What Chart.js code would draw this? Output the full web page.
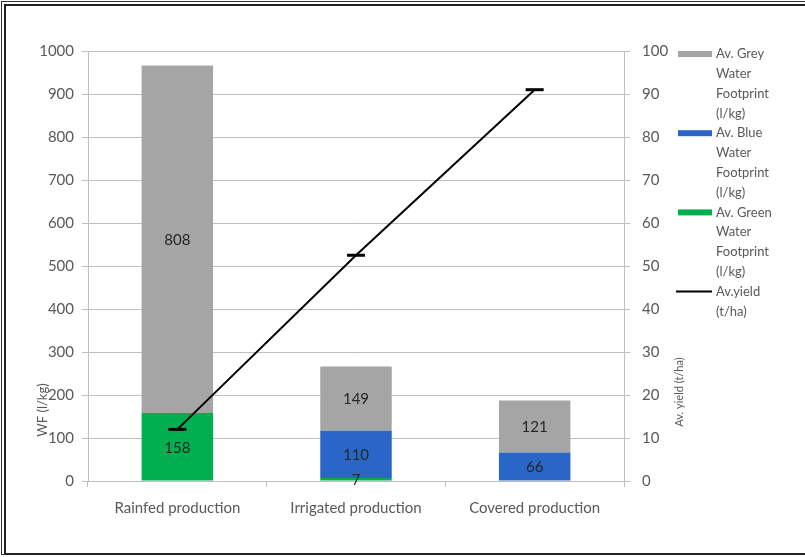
<!DOCTYPE html>
<html>
<head>
<meta charset="utf-8">
<script src="https://cdn.jsdelivr.net/npm/chart.js@4.4.0/dist/chart.umd.min.js"></script>
<style>
  html, body { margin: 0; padding: 0; background: #fff; overflow: hidden; }
  #wrap { width: 805px; height: 557px; position: relative; }
</style>
</head>
<body>
<div id="wrap"><canvas id="wf_chart" width="805" height="557"></canvas></div>
<script>
const categories = ["Rainfed production", "Irrigated production", "Covered production"];
const greenWF = [158, 7, 0];
const blueWF = [0, 110, 66];
const greyWF = [808, 149, 121];
const avYield = [12, 52.5, 91];

const legendItems = [
    { lines: ["Av. Grey", "Water", "Footprint", "(l/kg)"], color: "#a5a5a5", type: "box" },
    { lines: ["Av. Blue", "Water", "Footprint", "(l/kg)"], color: "#2a66c8", type: "box" },
    { lines: ["Av. Green", "Water", "Footprint", "(l/kg)"], color: "#00b050", type: "box" },
    { lines: ["Av.yield", "(t/ha)"], color: "#000000", type: "line" }
];

const font = "Lato";
const textGrey = "#595959";
const gridGrey = "#bfbfbf";

// white background + frame around the picture
const frame = {
    id: 'frame',
    beforeDraw: (chart) => {
        const {ctx} = chart;
        ctx.save();
        ctx.fillStyle = '#ffffff';
        ctx.fillRect(0, 0, chart.width, chart.height);
        ctx.restore();
    },
    afterDraw: (chart) => {
        const {ctx} = chart;
        ctx.save();
        ctx.strokeStyle = '#333';
        ctx.lineWidth = 1;
        ctx.strokeRect(1.5, 1.5, 820, 553);
        ctx.lineWidth = 2;
        ctx.strokeStyle = '#222';
        ctx.strokeRect(5, 5, 820, 549);
        ctx.restore();
    }
};

// value labels in the middle of each bar segment
const barLabels = {
    id: 'barLabels',
    afterDatasetsDraw: (chart) => {
        const {ctx} = chart;
        ctx.save();
        ctx.font = "15px " + font;
        ctx.fillStyle = "#262626";
        ctx.textAlign = "center";
        ctx.textBaseline = "middle";
        chart.data.datasets.forEach((ds, i) => {
            if (ds.type === 'line') return;
            const meta = chart.getDatasetMeta(i);
            meta.data.forEach((bar, j) => {
                const v = ds.data[j];
                if (!v) return;
                ctx.fillText(String(v), bar.x, (bar.y + bar.base) / 2 + 1);
            });
        });
        ctx.restore();
    }
};

// axis titles and the wrapped legend on the right
const extras = {
    id: 'extras',
    afterDraw: (chart) => {
        const {ctx} = chart;
        ctx.save();
        ctx.fillStyle = textGrey;
        ctx.textAlign = "center";
        ctx.textBaseline = "middle";

        ctx.save();
        ctx.translate(43, 410);
        ctx.rotate(-Math.PI / 2);
        ctx.font = "13px " + font;
        ctx.fillText("WF (l/kg)", 0, 0);
        ctx.restore();

        ctx.save();
        ctx.translate(679, 392);
        ctx.rotate(-Math.PI / 2);
        ctx.font = "11px " + font;
        ctx.fillText("Av. yield (t/ha)", 0, 0);
        ctx.restore();

        ctx.font = "13px " + font;
        ctx.textAlign = "left";
        let y = 54;
        const lh = 19.8;
        legendItems.forEach((item) => {
            if (item.type === "box") {
                ctx.fillStyle = item.color;
                ctx.fillRect(678, y - 3, 34, 6);
            } else {
                ctx.strokeStyle = item.color;
                ctx.lineWidth = 2;
                ctx.beginPath();
                ctx.moveTo(676, y);
                ctx.lineTo(712, y);
                ctx.stroke();
            }
            ctx.fillStyle = textGrey;
            item.lines.forEach((t, k) => {
                ctx.fillText(t, 716, y + k * lh);
            });
            y += item.lines.length * lh;
        });
        ctx.restore();
    }
};

const ctx = document.getElementById('wf_chart').getContext('2d');

const wf_chart = new Chart(ctx, {
    data: {
        labels: categories,
        datasets: [
            {
                type: 'line',
                label: "Av.yield (t/ha)",
                data: avYield,
                yAxisID: 'y1',
                borderColor: '#000',
                borderWidth: 2,
                pointStyle: 'line',
                pointRadius: 9,
                pointBorderWidth: 3,
                pointBorderColor: '#000',
                order: 0
            },
            {
                type: 'bar',
                label: "Av. Green Water Footprint (l/kg)",
                data: greenWF,
                backgroundColor: '#00b050',
                stack: 'wf',
                order: 1
            },
            {
                type: 'bar',
                label: "Av. Blue Water Footprint (l/kg)",
                data: blueWF,
                backgroundColor: '#2a66c8',
                stack: 'wf',
                order: 1
            },
            {
                type: 'bar',
                label: "Av. Grey Water Footprint (l/kg)",
                data: greyWF,
                backgroundColor: '#a5a5a5',
                stack: 'wf',
                order: 1
            }
        ]
    },
    options: {
        responsive: false,
        animation: false,
        datasets: {
            bar: { barPercentage: 0.4, categoryPercentage: 1.0 }
        },
        layout: {
            padding: { left: 0, right: 0, top: 51, bottom: 0 }
        },
        scales: {
            x: {
                stacked: true,
                grid: {
                    drawOnChartArea: false,
                    color: gridGrey,
                    tickLength: 6
                },
                border: { color: gridGrey },
                ticks: {
                    padding: 12,
                    font: { size: 15, family: font },
                    color: textGrey
                },
                afterFit: (scale) => { scale.height = 76; }
            },
            y: {
                stacked: true,
                min: 0,
                max: 1000,
                ticks: {
                    stepSize: 100,
                    padding: 8,
                    font: { size: 15, family: font },
                    color: textGrey,
                    callback: (v) => String(v)
                },
                grid: { color: gridGrey, tickLength: 6 },
                border: { color: gridGrey },
                afterFit: (scale) => { scale.width = 88; }
            },
            y1: {
                position: 'right',
                min: 0,
                max: 100,
                ticks: {
                    stepSize: 10,
                    padding: 12,
                    font: { size: 15, family: font },
                    color: textGrey,
                    callback: (v) => String(v)
                },
                grid: { drawOnChartArea: false, color: gridGrey, tickLength: 6 },
                border: { color: gridGrey },
                afterFit: (scale) => { scale.width = 181; }
            }
        },
        plugins: {
            legend: { display: false },
            tooltip: { enabled: false }
        }
    },
    plugins: [frame, barLabels, extras]
});
</script>
</body>
</html>
